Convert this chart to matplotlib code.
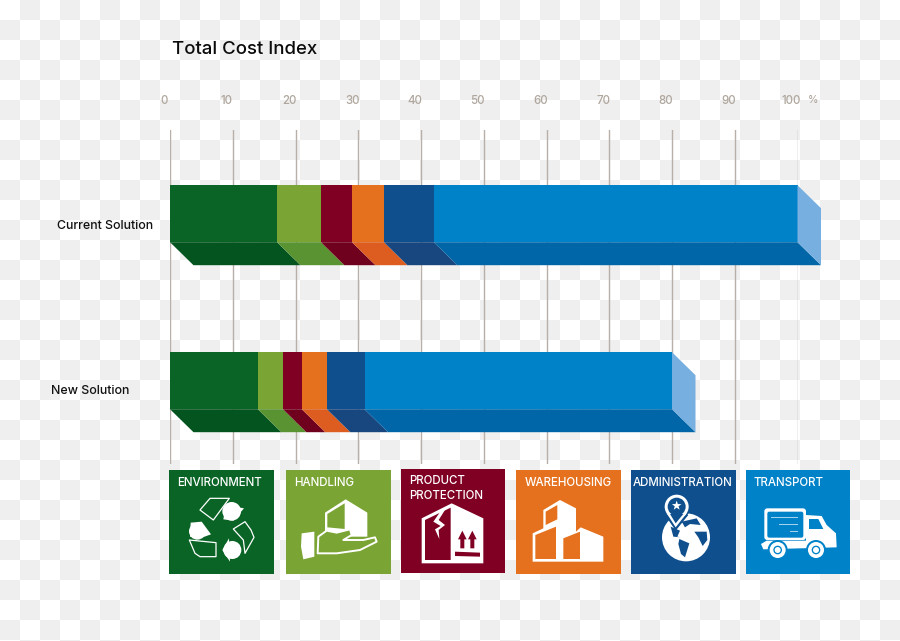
import numpy as np
import matplotlib

matplotlib.use("Agg")
import matplotlib.pyplot as plt
from matplotlib.patches import Polygon, Circle, Rectangle, FancyBboxPatch
from matplotlib.transforms import ScaledTranslation

plt.rcParams["font.family"] = "Inter"
plt.rcParams["font.weight"] = "medium"

# chart data
solutions = ["Current Solution", "New Solution"]
environment = [17.05, 14.0]
handling = [7.0, 4.0]
product = [4.95, 3.0]
warehousing = [5.1, 4.0]
administration = [7.95, 6.0]
transport = [57.95, 49.0]
ticks = list(range(0, 101, 10))
tile_labels = ["ENVIRONMENT", "HANDLING", "PRODUCT\nPROTECTION", "WAREHOUSING", "ADMINISTRATION", "TRANSPORT"]

front_colors = ["#0a6426", "#7aa433", "#800023", "#e5711e", "#0f4f8d", "#0082c8"]
depth_colors = ["#03541e", "#5a9332", "#6f001e", "#dc5d1f", "#18467f", "#0066a8"]
cap_color = "#77b0e0"
grid_color = "#b8afa8"
tick_color = "#afa69d"

W, H = 900, 641
fig = plt.figure(figsize=(W / 100, H / 100), dpi=100)


def px_rect(left, top, right, bottom):
    return [left / W, 1 - bottom / H, (right - left) / W, (bottom - top) / H]


# checkerboard backdrop
bg = fig.add_axes([0, 0, 1, 1], zorder=0)
jj, ii = np.indices((H // 20 + 1, W // 20 + 1))
bg.imshow((ii + jj) % 2, cmap=matplotlib.colors.ListedColormap(["#ffffff", "#efefef"]),
          extent=(0, (W // 20 + 1) * 20, (H // 20 + 1) * 20, 0), interpolation="nearest", aspect="auto")
bg.set_xlim(0, W)
bg.set_ylim(H, 0)
bg.axis("off")

# main chart
ax = fig.add_axes(px_rect(170, 130.2, 797.5, 464.2), zorder=1)
ax.patch.set_visible(False)
ax.set_xlim(0, 100)
ax.set_ylim(1.5, -0.5)
for s in ax.spines.values():
    s.set_visible(False)

ax.set_xticks(ticks)
ax.xaxis.tick_top()
ax.tick_params(axis="x", length=0, pad=17, labelsize=8.3, labelcolor=tick_color)
ax.grid(axis="x", color=grid_color, linewidth=1.0, zorder=0)
ax.set_axisbelow(True)
for lab in ax.get_xticklabels():
    lab.set_transform(lab.get_transform() + ScaledTranslation(-6 / 100, 0, fig.dpi_scale_trans))

ax.set_yticks(range(len(solutions)))
ax.set_yticklabels(solutions)
ax.tick_params(axis="y", length=0, pad=12.2, labelsize=8.9, labelcolor="#111111")
label_shift = [(0, -10.5), (-24, -8.5)]
for lab, (dx_px, dy_px) in zip(ax.get_yticklabels(), label_shift):
    lab.set_transform(lab.get_transform() + ScaledTranslation(dx_px / 100, dy_px / 100, fig.dpi_scale_trans))

bar_h = 57 / 167
depth_x = 23.5 / 6.275
depth_y = 23 / 167
series = [environment, handling, product, warehousing, administration, transport]

left = np.zeros(len(solutions))
for values, front, depth in zip(series, front_colors, depth_colors):
    ax.barh(range(len(solutions)), values, left=left, height=bar_h, color=front, linewidth=0, zorder=3)
    for i, v in enumerate(values):
        y0 = i + bar_h / 2
        x0 = left[i]
        ax.add_patch(Polygon([(x0, y0), (x0 + v, y0), (x0 + v + depth_x, y0 + depth_y), (x0 + depth_x, y0 + depth_y)],
                             closed=True, facecolor=depth, edgecolor="none", clip_on=False, zorder=3))
    left = left + np.array(values)

# end caps of the bars
for i, total in enumerate(left):
    top = i - bar_h / 2
    bot = i + bar_h / 2
    ax.add_patch(Polygon([(total, top), (total + depth_x, top + depth_y), (total + depth_x, bot + depth_y), (total, bot)],
                         closed=True, facecolor=cap_color, edgecolor="none", clip_on=False, zorder=3))

# overlay in pixel coordinates for texts, tiles and icons
ov = fig.add_axes([0, 0, 1, 1], zorder=2)
ov.patch.set_visible(False)
ov.set_xlim(0, W)
ov.set_ylim(H, 0)
ov.axis("off")

ov.text(171.5, 49, "Total Cost Index", fontsize=13.4, color="#0b0b0b", va="center", ha="left")
ov.text(813.5, 100, "%", fontsize=7.5, color=tick_color, va="center", ha="center")

tile_boxes = [(169, 470), (286, 470), (400.5, 469), (516, 470), (631, 470), (745.5, 470)]
tile_text_x = [177.5, 294.5, 409, 524.5, 632.5, 754]
for (x, y), col, name, tx in zip(tile_boxes, front_colors, tile_labels, tile_text_x):
    ov.add_patch(Rectangle((x, y), 104.5, 104, facecolor=col, edgecolor="none"))
    ov.text(tx, y + 12.5 + (7 if "\n" in name else 0), name, color="white", fontsize=8.3, va="center", ha="left",
            linespacing=1.3)


def poly(org, pts, fc="white", ec="none", lw=0):
    # icon shapes were measured on 3x crops, org is the crop corner
    xy = [(org[0] + a / 3, org[1] + b / 3) for a, b in pts]
    ov.add_patch(Polygon(xy, closed=True, facecolor=fc, edgecolor=ec, linewidth=lw, joinstyle="round"))


def circ(org, cx, cy, r, fc="white", ec="none", lw=0):
    ov.add_patch(Circle((org[0] + cx / 3, org[1] + cy / 3), r / 3, facecolor=fc, edgecolor=ec, linewidth=lw))


left_crop = (150, 340)
right_crop = (510, 340)

# recycling icon
g = front_colors[0]
poly(left_crop, [(150, 510), (180, 475), (238, 475), (190, 540)], fc=g, ec="white", lw=0.9)
poly(left_crop, [(250, 567), (285, 545), (303, 570), (312, 592), (285, 640), (280, 600)], fc=g, ec="white", lw=0.9)
poly(left_crop, [(118, 600), (198, 608), (198, 650), (150, 650), (135, 640)], fc=g, ec="white", lw=0.9)
circ(left_crop, 245, 514, 28)
poly(left_crop, [(282, 505), (250, 542), (220, 538), (228, 495)])
circ(left_crop, 142, 574, 25)
poly(left_crop, [(122, 548), (155, 545), (183, 583), (150, 595), (120, 590)])
circ(left_crop, 247, 630, 27)
poly(left_crop, [(237, 595), (240, 665), (217, 630)])

# handling icon
h = front_colors[1]
poly(left_crop, [(525, 518), (587, 478), (652, 518), (652, 590), (525, 590)])
poly(left_crop, [(532, 522), (584, 490), (584, 567), (532, 562)], fc=h)
poly(left_crop, [(503, 640), (505, 590), (530, 572), (560, 578), (600, 568), (605, 585), (580, 600), (640, 600),
                 (675, 592), (680, 605), (630, 630), (560, 640)], fc=h, ec="white", lw=1.4)
poly(left_crop, [(455, 580), (493, 575), (493, 650), (460, 658), (453, 620)])

# product protection icon
p = front_colors[2]
poly(left_crop, [(815, 535), (905, 490), (1000, 535), (1000, 670), (815, 670)])
poly(left_crop, [(825, 540), (902, 503), (902, 660), (825, 660)], fc=p)
poly(left_crop, [(878, 505), (850, 545), (872, 558), (855, 568), (868, 597), (866, 570), (885, 555), (866, 540), (888, 505)])
for shift in (0, 30):
    poly(left_crop, [(937 + shift, 572), (950 + shift, 598), (943 + shift, 598), (943 + shift, 625), (931 + shift, 625),
                     (931 + shift, 598), (924 + shift, 598)], fc=p)
poly(left_crop, [(915, 635), (990, 638), (990, 650), (915, 648)], fc=p)

# warehousing icon
w = front_colors[3]
poly(right_crop, [(100, 510), (150, 480), (198, 505), (198, 575), (212, 562), (280, 590), (280, 665), (68, 665),
                  (68, 580), (100, 565)])
poly(right_crop, [(107, 515), (142, 495), (142, 538), (107, 555)], fc=w)
poly(right_crop, [(76, 585), (138, 560), (138, 657), (76, 657)], fc=w)
poly(right_crop, [(160, 595), (210, 575), (210, 657), (160, 657)], fc=w)

# administration icon
a = front_colors[4]
circ(right_crop, 528, 592, 72)
poly(right_crop, [(482, 560), (510, 572), (502, 590), (512, 592), (490, 590)], fc=a)
poly(right_crop, [(508, 597), (538, 610), (525, 652), (513, 642), (505, 612)], fc=a)
poly(right_crop, [(553, 575), (590, 575), (592, 600), (578, 618), (565, 592)], fc=a)
poly(right_crop, [(515, 545), (560, 535), (572, 555), (540, 552), (525, 562)], fc=a)
circ(right_crop, 500, 500, 41, fc=a)
poly(right_crop, [(465, 525), (535, 525), (497, 572)], fc=a)
circ(right_crop, 500, 500, 36, fc="white")
poly(right_crop, [(470, 520), (530, 520), (497, 562)])
circ(right_crop, 500, 500, 27, fc=a)
poly(right_crop, [(480, 522), (520, 522), (497, 550)], fc=a)
star = [(500 + r * np.sin(t), 497 - r * np.cos(t))
        for t, r in zip(np.arange(10) * np.pi / 5, [15, 6] * 5)]
poly(right_crop, star)

# truck icon
t = front_colors[5]
ov.add_patch(FancyBboxPatch((510 + 763 / 3, 340 + 505 / 3), 125 / 3, 95 / 3, boxstyle="round,pad=0,rounding_size=3",
                            facecolor="white", edgecolor="none"))
ov.add_patch(FancyBboxPatch((510 + 772 / 3, 340 + 515 / 3), 108 / 3, 78 / 3, boxstyle="round,pad=0,rounding_size=2",
                            facecolor=t, edgecolor="none"))
poly(right_crop, [(888, 525), (935, 528), (950, 555), (978, 580), (980, 622), (760, 628), (753, 612), (770, 602), (888, 602)])
poly(right_crop, [(897, 537), (925, 537), (940, 567), (897, 567)], fc=t)
for y0, x0 in [(533, 783), (553, 807), (575, 840)]:
    poly(right_crop, [(x0, y0 - 2), (863, y0 - 2), (863, y0 + 2), (x0, y0 + 2)], fc="#a5d2ec")
for cx in (803, 918):
    circ(right_crop, cx, 630, 30, fc=t)
    circ(right_crop, cx, 630, 24)
    circ(right_crop, cx, 630, 13, fc=t)
    circ(right_crop, cx, 630, 9)

fig.savefig("out.png", dpi=100)
